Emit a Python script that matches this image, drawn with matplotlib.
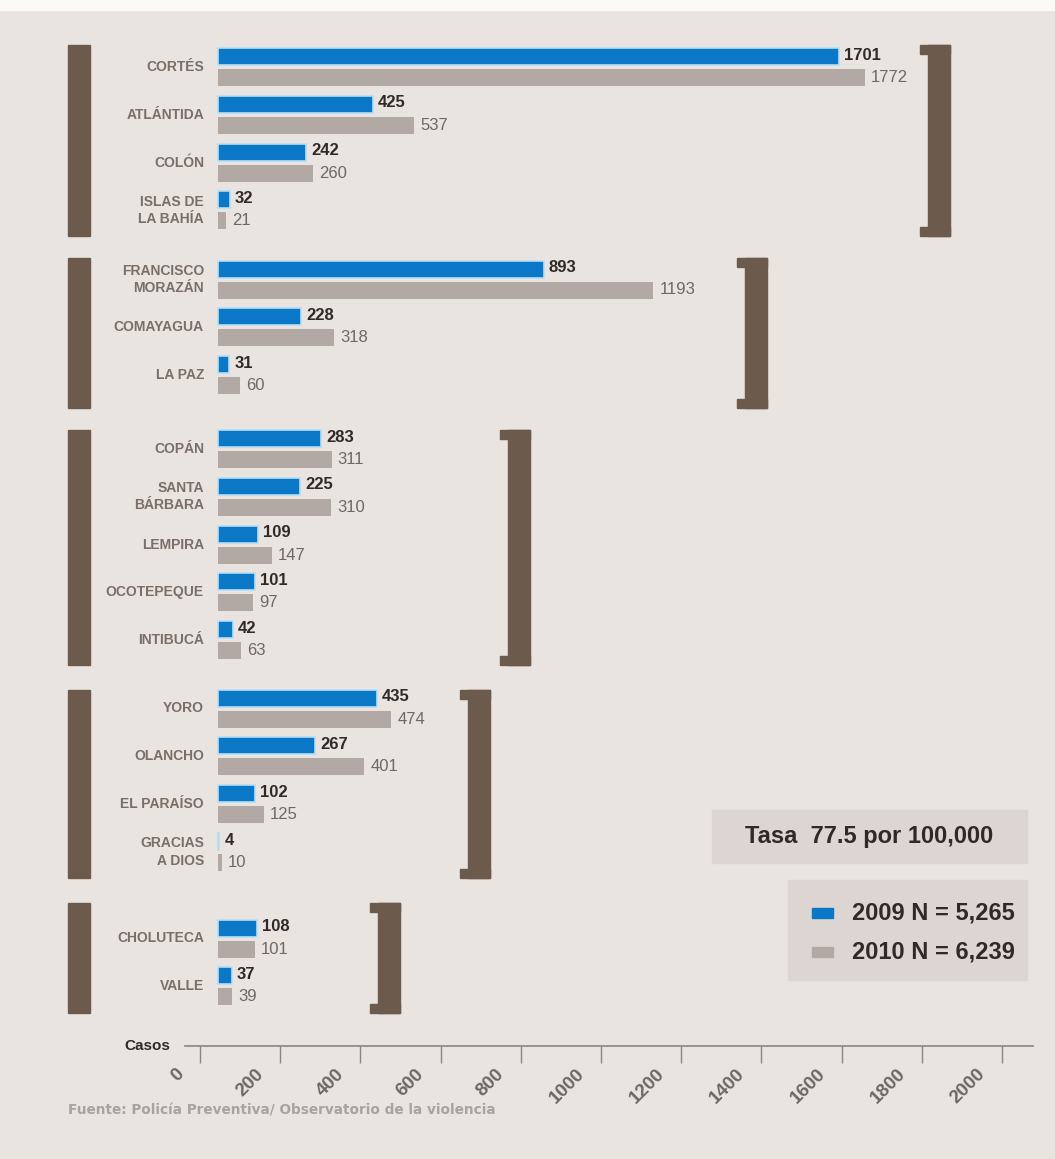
import matplotlib
matplotlib.use("Agg")
import matplotlib.pyplot as plt
import matplotlib.transforms as mtransforms
from matplotlib.patches import Rectangle

plt.rcParams['font.family'] = ['Liberation Sans', 'DejaVu Sans']

# datos: homicidios por departamento (2009 / 2010)
departamentos = [
    ["CORTÉS", "ATLÁNTIDA", "COLÓN", "ISLAS DE\nLA BAHÍA"],
    ["FRANCISCO\nMORAZÁN", "COMAYAGUA", "LA PAZ"],
    ["COPÁN", "SANTA\nBÁRBARA", "LEMPIRA", "OCOTEPEQUE", "INTIBUCÁ"],
    ["YORO", "OLANCHO", "EL PARAÍSO", "GRACIAS\nA DIOS"],
    ["CHOLUTECA", "VALLE"],
]
casos_2009 = [
    [1701, 425, 242, 32],
    [893, 228, 31],
    [283, 225, 109, 101, 42],
    [435, 267, 102, 4],
    [108, 37],
]
casos_2010 = [
    [1772, 537, 260, 21],
    [1193, 318, 60],
    [311, 310, 147, 97, 63],
    [474, 401, 125, 10],
    [101, 39],
]
ticks_casos = [0, 200, 400, 600, 800, 1000, 1200, 1400, 1600, 1800, 2000]
leyenda = ["2009 N = 5,265", "2010 N = 6,239"]
tasa = "Tasa  77.5 por 100,000"
fuente = "Fuente: Policía Preventiva/ Observatorio de la violencia"

# estilo / layout (pixeles)
W, H = 1055, 1159
fondo = "#e9e4e0"
azul = "#0a78c6"
gris = "#b2a8a4"
cafe = "#6c5a4d"
inicio_grupo = [67, 279.5, 449, 708.5, 938.5]
paso = 47.8
tramo_grupo = [(45, 236), (258, 408), (430, 665), (690, 878), (903, 1013)]
corchete_x = [920, 737, 500, 460, 370]
x0, esc = 218, 0.365   # pixel del cero y pixeles por caso

fig = plt.figure(figsize=(W / 100, H / 100), dpi=100)
fig.patch.set_facecolor(fondo)

# capa de decoracion en pixeles
deco = fig.add_axes([0, 0, 1, 1])
deco.set_xlim(0, W)
deco.set_ylim(H, 0)
deco.axis("off")
deco.add_patch(Rectangle((0, 0), W, 10, color="#fbfaf7", zorder=0))

# ejes de barras (y en pixeles)
ax = fig.add_axes([0, 0, 1, 1])
ax.set_xlim(-x0 / esc, (W - x0) / esc)
ax.set_ylim(H, 0)
ax.axis("off")
ax.patch.set_alpha(0)

for g, nombres in enumerate(departamentos):
    ys = [inicio_grupo[g] + i * paso for i in range(len(nombres))]
    y_azul = [y - 10.5 for y in ys]
    y_gris = [y + 10.5 for y in ys]
    ax.barh(y_azul, casos_2009[g], height=17, color=azul,
            edgecolor="#b5def3", linewidth=1.2, zorder=3)
    ax.barh(y_gris, casos_2010[g], height=17, color=gris, zorder=3)
    for y, v in zip(y_azul, casos_2009[g]):
        ax.annotate(str(v), (v, y), xytext=(3.5, 1), textcoords="offset points",
                    ha="left", va="center", fontsize=12, fontweight="bold",
                    color="#2f2a27")
    for y, v in zip(y_gris, casos_2010[g]):
        ax.annotate(str(v), (v, y), xytext=(4.5, 0), textcoords="offset points",
                    ha="left", va="center", fontsize=12, color="#6f6762")
    for y, nombre in zip(ys, nombres):
        deco.text(204, y, nombre, ha="right", va="center", fontsize=10,
                  fontweight="bold", color="#7a6e67", linespacing=1.3)

    # barra izquierda y corchete derecho
    top, bot = tramo_grupo[g]
    deco.add_patch(Rectangle((68, top), 22, bot - top, color=cafe, zorder=2))
    cx = corchete_x[g]
    deco.add_patch(Rectangle((cx + 8, top), 22, bot - top, color=cafe, zorder=2))
    deco.add_patch(Rectangle((cx, top), 30, 9, color=cafe, zorder=2))
    deco.add_patch(Rectangle((cx, bot - 9), 30, 9, color=cafe, zorder=2))

# cajas de tasa y leyenda
deco.add_patch(Rectangle((712, 810), 315, 53, color="#ddd5d2", zorder=1))
deco.text(869, 837, tasa, ha="center", va="center", fontsize=17,
          fontweight="bold", color="#2f2a27")
deco.add_patch(Rectangle((788, 880), 239, 100, color="#ddd5d2", zorder=1))
for i, (txt, c) in enumerate(zip(leyenda, [azul, gris])):
    y = 913 + i * 39
    deco.add_patch(Rectangle((812, y - 5), 21, 10, color=c, zorder=2))
    deco.text(852, y, txt, ha="left", va="center", fontsize=17,
              fontweight="bold", color="#2f2a27")

# eje de casos
ax2 = fig.add_axes([185 / W, 1 - 1046 / H, (1033 - 185) / W, 0.001])
px_caso = 802 / 2000
ax2.set_xlim(-15 / px_caso, 848 / px_caso - 15 / px_caso)
ax2.patch.set_alpha(0)
ax2.set_yticks([])
for s in ["top", "left", "right"]:
    ax2.spines[s].set_visible(False)
ax2.spines["bottom"].set_color("#8c847e")
ax2.spines["bottom"].set_linewidth(1.2)
ax2.set_xticks(ticks_casos)
ax2.tick_params(axis="x", direction="out", length=12, width=1,
                color="#8c847e", pad=2)
desplaza = mtransforms.ScaledTranslation(-13 / 100, 0, fig.dpi_scale_trans)
ax2.set_xticklabels([str(t) for t in ticks_casos], rotation=45, ha="right",
                    va="top", fontsize=13.5, fontweight="bold", color="#6f6762")
for lab in ax2.get_xticklabels():
    lab.set_transform(lab.get_transform() + desplaza)
deco.text(170, 1046, "Casos", ha="right", va="center", fontsize=11,
          fontweight="bold", color="#2f2a27")

deco.text(68, 1111, fuente, ha="left", va="center", fontsize=9.8,
          fontweight="bold", color="#aaa29c", family=["DejaVu Sans"])

fig.savefig("out.png", dpi=100, facecolor=fondo)
